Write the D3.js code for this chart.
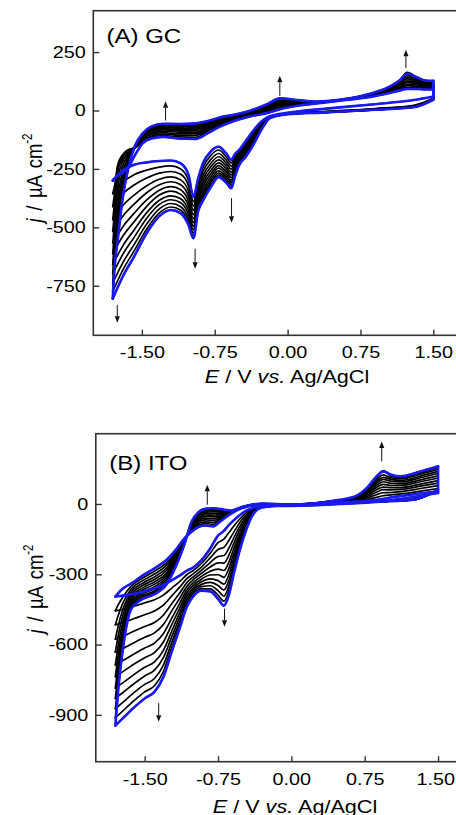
<!DOCTYPE html>
<html>
<head>
<meta charset="utf-8">
<script src="https://cdn.jsdelivr.net/npm/d3@7"></script>
<style>
  html, body { margin: 0; padding: 0; background: #fff; }
  svg { display: block; }
  text { font-family: "Liberation Sans", Arial, Helvetica, sans-serif; fill: #000; }
</style>
</head>
<body>
<svg id="chart" width="456" height="815"></svg>
<script>
// ---------------------------------------------------------------
// Repeated cyclic voltammograms, 12 scans per electrode.
// Each row holds the current density (µA cm^-2) of scans 1..12
// at the potential (V vs. Ag/AgCl) listed in the matching E array.
// ---------------------------------------------------------------

// (A) glassy carbon — cathodic sweep, 1.50 V -> -1.80 V
const gcCathodicE = [1.50, 1.30, 0.90, 0.40, 0.00, -0.18, -0.27, -0.35, -0.43, -0.50, -0.54, -0.58, -0.63,
  -0.71, -0.79, -0.87, -0.92, -0.97, -1.02, -1.10, -1.20, -1.32, -1.45, -1.58, -1.69, -1.80];
const gcCathodicJ = [
  [60, 52, 50, 49, 48, 48, 47, 47, 46, 46, 46, 46],
  [45, 22, 20, 19, 18, 17, 16, 16, 15, 15, 14, 14],
  [27, 8, 7, 6, 5, 5, 4, 4, 4, 3, 3, 3],
  [8, -4, -5, -6, -6, -7, -7, -7, -8, -8, -8, -8],
  [-10, -13, -14, -14, -15, -15, -15, -16, -16, -16, -16, -16],
  [-24, -25, -26, -27, -27, -28, -29, -30, -30, -31, -31, -32],
  [-47, -51, -55, -59, -62, -66, -69, -73, -75, -78, -81, -83],
  [-85, -92, -98, -105, -111, -117, -122, -128, -132, -137, -141, -145],
  [-130, -137, -145, -152, -159, -166, -172, -178, -184, -189, -194, -198],
  [-170, -177, -184, -191, -198, -204, -210, -216, -221, -227, -231, -235],
  [-185, -196, -206, -216, -226, -235, -244, -252, -260, -268, -274, -280],
  [-211, -224, -238, -251, -264, -276, -287, -298, -307, -317, -326, -333],
  [-185, -199, -213, -226, -239, -251, -263, -274, -284, -294, -303, -310],
  [-155, -169, -184, -198, -211, -224, -236, -247, -258, -268, -277, -285],
  [-175, -192, -209, -226, -241, -256, -270, -284, -296, -308, -319, -328],
  [-225, -243, -260, -278, -294, -310, -324, -339, -351, -364, -375, -385],
  [-290, -305, -321, -336, -350, -364, -377, -389, -401, -412, -422, -430],
  [-370, -390, -409, -428, -446, -464, -480, -496, -510, -524, -536, -547],
  [-275, -299, -322, -346, -368, -389, -408, -428, -445, -462, -477, -490],
  [-226, -250, -273, -297, -318, -339, -359, -378, -395, -412, -427, -440],
  [-214, -237, -261, -284, -305, -326, -345, -365, -382, -398, -413, -426],
  [-216, -242, -268, -294, -318, -341, -362, -384, -402, -421, -438, -452],
  [-222, -255, -289, -322, -352, -383, -410, -437, -461, -486, -507, -525],
  [-232, -275, -319, -362, -401, -440, -476, -511, -543, -574, -601, -625],
  [-255, -305, -354, -404, -449, -494, -534, -575, -611, -647, -678, -705],
  [-300, -356, -411, -467, -517, -568, -613, -659, -699, -739, -775, -805]
];

// (A) glassy carbon — anodic sweep, -1.80 V -> 1.50 V
const gcAnodicE = [-1.80, -1.78, -1.75, -1.70, -1.64, -1.57, -1.49, -1.40, -1.28, -1.12, -0.95, -0.82, -0.70,
  -0.55, -0.38, -0.20, -0.08, 0.10, 0.30, 0.60, 0.85, 1.05, 1.15, 1.23, 1.33, 1.42, 1.50];
const gcAnodicJ = [
  [-300, -356, -411, -467, -517, -568, -613, -659, -699, -739, -775, -805],
  [-290, -320, -350, -390, -430, -470, -505, -545, -580, -615, -645, -668],
  [-280, -235, -245, -265, -300, -335, -375, -415, -455, -490, -530, -560],
  [-268, -190, -195, -205, -220, -240, -262, -285, -310, -335, -360, -383],
  [-245, -168, -170, -175, -182, -190, -200, -210, -220, -230, -240, -247],
  [-190, -160, -158, -157, -156, -155, -155, -154, -153, -152, -151, -150],
  [-140, -135, -128, -122, -117, -112, -108, -105, -102, -100, -98, -97],
  [-120, -114, -109, -103, -98, -92, -88, -83, -79, -75, -71, -68],
  [-113, -107, -101, -95, -89, -83, -78, -73, -69, -64, -60, -57],
  [-120, -113, -106, -100, -93, -87, -82, -76, -71, -66, -62, -58],
  [-122, -115, -107, -100, -93, -86, -80, -74, -69, -64, -59, -55],
  [-97, -91, -86, -80, -75, -69, -65, -60, -56, -52, -48, -45],
  [-70, -66, -61, -57, -53, -49, -45, -42, -38, -35, -32, -30],
  [-45, -42, -39, -36, -33, -31, -28, -26, -24, -22, -20, -18],
  [-25, -22, -20, -17, -14, -12, -10, -7, -5, -3, -2, 0],
  [-10, -6, -1, 3, 7, 11, 14, 18, 21, 24, 27, 29],
  [5, 10, 15, 21, 25, 30, 34, 38, 42, 46, 49, 52],
  [20, 23, 26, 28, 31, 33, 36, 38, 40, 42, 44, 45],
  [30, 31, 32, 33, 33, 34, 35, 36, 36, 37, 38, 38],
  [45, 46, 46, 47, 47, 48, 48, 49, 49, 49, 50, 50],
  [58, 60, 61, 63, 64, 65, 67, 68, 69, 70, 71, 72],
  [75, 78, 81, 84, 87, 89, 92, 94, 96, 98, 100, 102],
  [85, 90, 94, 99, 103, 108, 112, 116, 119, 122, 125, 128],
  [92, 99, 106, 113, 120, 127, 135, 143, 150, 158, 163, 157],
  [92, 98, 103, 109, 114, 119, 123, 128, 132, 138, 143, 142],
  [90, 94, 98, 103, 106, 110, 114, 117, 120, 123, 126, 128],
  [90, 94, 98, 102, 106, 110, 113, 116, 119, 122, 125, 127]
];

// (B) ITO — cathodic sweep, 1.50 V -> -1.80 V
const itoCathodicE = [1.50, 1.25, 0.90, 0.50, 0.00, -0.30, -0.40, -0.47, -0.53, -0.59, -0.64, -0.69, -0.75,
  -0.83, -0.92, -1.00, -1.07, -1.14, -1.22, -1.31, -1.40, -1.50, -1.60, -1.70, -1.80];
const itoCathodicJ = [
  [47, 58, 59, 60, 60, 60, 61, 61, 61, 61, 61, 61],
  [30, 20, 20, 19, 19, 19, 19, 18, 18, 18, 18, 18],
  [11, 10, 10, 10, 10, 10, 10, 10, 10, 10, 10, 10],
  [0, 2, 2, 2, 2, 2, 2, 2, 2, 2, 2, 2],
  [-8, -4, -4, -4, -4, -3, -3, -3, -3, -3, -3, -3],
  [-8, -9, -10, -10, -11, -12, -12, -13, -14, -14, -15, -15],
  [-18, -22, -25, -29, -32, -35, -38, -41, -43, -46, -48, -50],
  [-30, -40, -50, -60, -69, -78, -86, -94, -101, -108, -115, -120],
  [-48, -65, -81, -98, -113, -129, -142, -156, -168, -180, -191, -200],
  [-70, -95, -121, -146, -169, -192, -213, -233, -252, -270, -286, -300],
  [-90, -123, -156, -189, -219, -249, -276, -303, -327, -351, -372, -390],
  [-115, -150, -185, -220, -252, -284, -313, -342, -367, -393, -415, -434],
  [-135, -165, -194, -224, -251, -278, -302, -327, -348, -370, -389, -405],
  [-190, -210, -230, -250, -269, -287, -303, -320, -335, -349, -362, -373],
  [-240, -254, -269, -283, -296, -309, -321, -332, -343, -353, -362, -370],
  [-270, -283, -297, -310, -322, -335, -346, -357, -366, -376, -385, -392],
  [-285, -302, -319, -336, -352, -367, -381, -395, -408, -420, -431, -440],
  [-305, -330, -354, -379, -401, -423, -443, -463, -481, -499, -515, -528],
  [-325, -358, -391, -424, -454, -485, -512, -539, -563, -587, -608, -626],
  [-345, -389, -432, -475, -515, -554, -590, -626, -657, -689, -716, -740],
  [-360, -409, -457, -506, -550, -594, -634, -674, -709, -745, -776, -802],
  [-372, -422, -473, -523, -569, -615, -656, -697, -734, -770, -802, -830],
  [-382, -435, -488, -541, -590, -638, -681, -725, -764, -802, -836, -865],
  [-390, -447, -503, -560, -612, -663, -709, -756, -797, -838, -874, -905],
  [-395, -456, -516, -577, -632, -687, -737, -786, -830, -874, -913, -946]
];

// (B) ITO — anodic sweep, -1.80 V -> 1.50 V
const itoAnodicE = [-1.80, -1.77, -1.72, -1.64, -1.52, -1.40, -1.28, -1.18, -1.10, -1.02, -0.95, -0.88, -0.80,
  -0.72, -0.62, -0.50, -0.30, 0.00, 0.40, 0.65, 0.78, 0.88, 0.94, 1.02, 1.12, 1.32, 1.50];
const itoAnodicJ = [
  [-395, -456, -516, -577, -632, -687, -737, -786, -830, -874, -913, -946],
  [-380, -430, -475, -520, -560, -600, -640, -680, -715, -750, -775, -790],
  [-360, -395, -420, -445, -470, -495, -520, -545, -565, -585, -600, -610],
  [-340, -352, -364, -376, -387, -398, -408, -418, -427, -436, -443, -450],
  [-305, -316, -327, -338, -348, -358, -367, -376, -384, -392, -399, -405],
  [-275, -287, -299, -311, -322, -333, -343, -353, -362, -371, -378, -385],
  [-240, -252, -263, -275, -285, -296, -305, -315, -323, -331, -339, -345],
  [-195, -203, -210, -218, -225, -232, -238, -245, -250, -256, -261, -265],
  [-150, -153, -157, -160, -163, -166, -169, -171, -174, -176, -178, -180],
  [-118, -113, -109, -104, -100, -95, -91, -87, -84, -81, -78, -75],
  [-98, -91, -84, -77, -71, -65, -59, -53, -48, -43, -39, -35],
  [-92, -84, -76, -68, -61, -54, -47, -41, -35, -29, -24, -20],
  [-96, -87, -79, -70, -63, -55, -48, -41, -34, -28, -23, -18],
  [-72, -67, -61, -56, -51, -46, -41, -37, -33, -29, -25, -22],
  [-42, -40, -39, -37, -36, -35, -33, -32, -31, -30, -29, -28],
  [-17, -16, -16, -15, -15, -14, -14, -13, -13, -12, -12, -12],
  [-4, -3, -3, -2, -1, -1, 0, 0, 1, 1, 2, 2],
  [-3, -3, -3, -3, -3, -2, -2, -2, -2, -2, -2, -2],
  [5, 6, 7, 7, 8, 9, 9, 10, 11, 11, 12, 12],
  [10, 12, 15, 17, 19, 22, 24, 26, 27, 29, 31, 32],
  [14, 20, 27, 33, 39, 45, 50, 55, 60, 64, 69, 72],
  [18, 29, 41, 52, 63, 73, 82, 92, 100, 108, 116, 122],
  [22, 35, 48, 61, 72, 84, 95, 105, 114, 124, 142, 139],
  [28, 39, 49, 60, 70, 79, 88, 97, 105, 112, 119, 125],
  [34, 43, 53, 62, 70, 79, 86, 94, 100, 107, 113, 118],
  [45, 55, 66, 76, 85, 95, 103, 112, 119, 127, 133, 139],
  [54, 66, 78, 89, 100, 111, 120, 130, 139, 147, 155, 161]
];

// Scans drawn in blue (first and last); the rest are black
const highlightScans = [0, 11];

// Tick values
const potentialTicks = [-1.5, -0.75, 0, 0.75, 1.5];
const gcCurrentTicks = [250, 0, -250, -500, -750];
const itoCurrentTicks = [0, -300, -600, -900];

// Arrows showing growth with scan number: [E, j tail, j head]
const gcArrows = [[-1.256, -43, 39], [-0.08, 63, 149], [1.218, 182, 260],
  [-0.577, -375, -480], [-0.952, -592, -677], [-1.753, -832, -908]];
const itoArrows = [[-0.86, -3, 82], [0.924, 182, 267], [-0.684, -447, -524], [-1.357, -850, -929]];

// ---------------------------------------------------------------
const W = 456;
const svg = d3.select('#chart');
const defs = svg.append('defs');
const SX = 1.2;            // horizontal text stretch
const BLUE = '#1a1af0';
const FRAME = '#333';

function drawPanel(cfg) {
  const x = d3.scaleLinear().domain([-2, 1.75]).range([cfg.left, cfg.right]);
  const y = d3.scaleLinear().domain(cfg.yDomain).range([cfg.bottom, cfg.top]);

  defs.append('clipPath').attr('id', 'clip-' + cfg.id)
    .append('rect')
    .attr('x', cfg.left).attr('y', cfg.top)
    .attr('width', cfg.right - cfg.left).attr('height', cfg.bottom - cfg.top);

  const g = svg.append('g');
  const plot = g.append('g').attr('clip-path', `url(#clip-${cfg.id})`);

  const smooth = d3.line().x(d => x(d[0])).y(d => y(d[1])).curve(d3.curveMonotoneX);
  const straight = d3.line().x(d => x(d[0])).y(d => y(d[1]));
  const sweep = (E, rows, k) => E.map((e, i) => [e, rows[i][k]]).sort((a, b) => a[0] - b[0]);

  function drawScan(k, color, width) {
    const c = sweep(cfg.cathE, cfg.cathJ, k);
    const a = sweep(cfg.anE, cfg.anJ, k);
    const nA = cfg.anE.length - 1;
    const turn = [[cfg.anE[nA], cfg.anJ[nA][k]], [cfg.cathE[0], cfg.cathJ[0][k]]];
    [smooth(c), smooth(a), straight(turn)].forEach(d => {
      plot.append('path').attr('d', d)
        .attr('fill', 'none').attr('stroke', color)
        .attr('stroke-width', width)
        .attr('stroke-linejoin', 'round').attr('stroke-linecap', 'round');
    });
  }

  const nScans = cfg.cathJ[0].length;
  for (let k = 0; k < nScans; k++) drawScan(k, '#000', 1.7);
  highlightScans.forEach(k => drawScan(k, BLUE, 2.6));

  // growth arrows
  cfg.arrows.forEach(([e, j0, j1]) => {
    const ax = x(e), y0 = y(j0), y1 = y(j1);
    const dir = Math.sign(y1 - y0);
    const headLen = 6.5, half = 2.6;
    g.append('line')
      .attr('x1', ax).attr('x2', ax)
      .attr('y1', y0).attr('y2', y1 - dir * headLen)
      .attr('stroke', '#111').attr('stroke-width', 1);
    g.append('path')
      .attr('d', `M${ax},${y1} L${ax - half},${y1 - dir * headLen} L${ax + half},${y1 - dir * headLen} Z`)
      .attr('fill', '#111');
  });

  // frame
  g.append('rect')
    .attr('x', cfg.left).attr('y', cfg.top)
    .attr('width', cfg.right - cfg.left).attr('height', cfg.bottom - cfg.top)
    .attr('fill', 'none').attr('stroke', FRAME).attr('stroke-width', 1.6);

  // axes with inward ticks
  const xAxis = d3.axisBottom(x).tickValues(potentialTicks)
    .tickFormat(d => d.toFixed(2)).tickSizeInner(-5.5).tickSizeOuter(0).tickPadding(11.2);
  const gx = g.append('g').attr('transform', `translate(0,${cfg.bottom})`).call(xAxis);
  gx.select('.domain').remove();
  gx.attr('font-family', null).attr('font-size', null);
  gx.selectAll('.tick line').attr('stroke', FRAME).attr('stroke-width', 1.4);
  gx.selectAll('.tick text').attr('fill', '#000').style('font-size', '16.5px')
    .attr('transform', `scale(${SX},1)`);
  // keep the right-most label inside the page
  gx.selectAll('.tick text').each(function () {
    const box = this.getBoundingClientRect();
    const over = box.right - (W - 1);
    if (over > 0) d3.select(this).attr('x', -over / SX);
  });

  const yAxis = d3.axisLeft(y).tickValues(cfg.yTicks)
    .tickFormat(d => String(d)).tickSizeInner(-6).tickSizeOuter(0).tickPadding(6.2);
  const gy = g.append('g').attr('transform', `translate(${cfg.left},0)`).call(yAxis);
  gy.select('.domain').remove();
  gy.attr('font-family', null).attr('font-size', null);
  gy.selectAll('.tick line').attr('stroke', FRAME).attr('stroke-width', 1.4);
  gy.selectAll('.tick text').attr('fill', '#000').style('font-size', '16.5px')
    .attr('transform', `scale(${SX},1)`);

  // panel title
  g.append('text')
    .attr('transform', `translate(${cfg.titleX},${cfg.titleY}) scale(${SX},1)`)
    .style('font-size', '20px')
    .text(cfg.title);

  // x-axis title
  const xt = g.append('text')
    .attr('transform', `translate(${cfg.xTitleX},${cfg.xTitleY}) scale(${SX},1)`)
    .attr('text-anchor', 'middle')
    .style('font-size', '18px');
  xt.append('tspan').style('font-style', 'italic').text('E');
  xt.append('tspan').text(' / V ');
  xt.append('tspan').style('font-style', 'italic').text('vs.');
  xt.append('tspan').text(' Ag/AgCl');

  // y-axis title
  const yt = g.append('text')
    .attr('transform', `translate(${cfg.yTitleX},${cfg.yTitleY}) scale(${SX},1) rotate(-90)`)
    .attr('text-anchor', 'middle')
    .style('font-size', '18.5px')
    .style('word-spacing', '2.5px');
  yt.append('tspan').style('font-style', 'italic').text('j');
  yt.append('tspan').text(' / \u00B5A cm');
  yt.append('tspan').attr('dy', -8.5).style('font-size', '11.5px').text('-2');
}

drawPanel({
  id: 'gc', title: '(A) GC',
  left: 93.3, right: 457.6, top: 10.7, bottom: 335.3,
  yDomain: [-962, 427], yTicks: gcCurrentTicks,
  cathE: gcCathodicE, cathJ: gcCathodicJ, anE: gcAnodicE, anJ: gcAnodicJ,
  arrows: gcArrows,
  titleX: 106.5, titleY: 43.3,
  xTitleX: 287, xTitleY: 383.3,
  yTitleX: 42, yTitleY: 178
});

drawPanel({
  id: 'ito', title: '(B) ITO',
  left: 95.8, right: 462.5, top: 433.7, bottom: 761.7,
  yDomain: [-1100, 300], yTicks: itoCurrentTicks,
  cathE: itoCathodicE, cathJ: itoCathodicJ, anE: itoAnodicE, anJ: itoAnodicJ,
  arrows: itoArrows,
  titleX: 109.3, titleY: 470,
  xTitleX: 295, xTitleY: 812.8,
  yTitleX: 43, yTitleY: 589
});
</script>
</body>
</html>
